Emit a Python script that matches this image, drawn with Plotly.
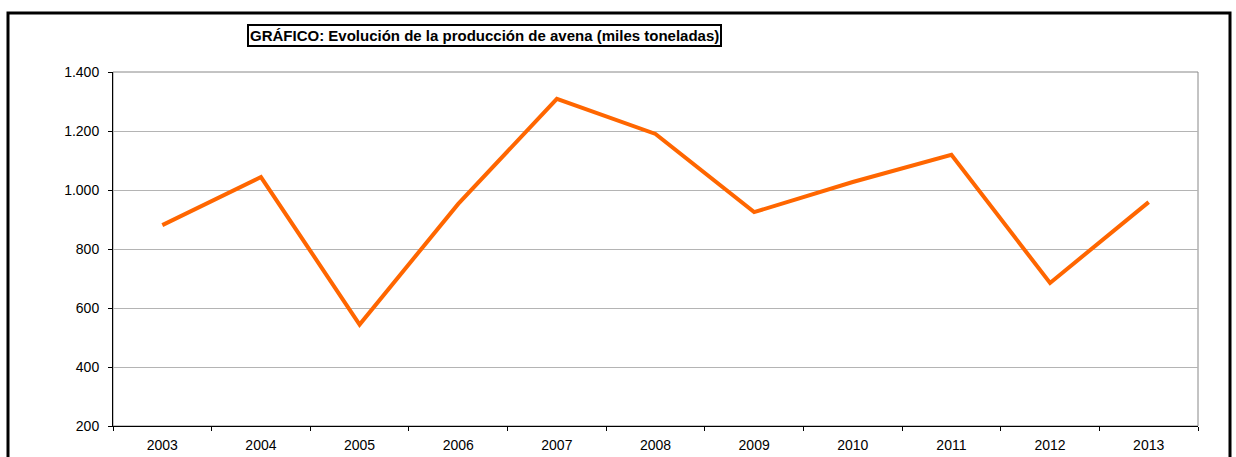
import plotly.graph_objects as go

years = ["2003", "2004", "2005", "2006", "2007", "2008", "2009", "2010", "2011", "2012", "2013"]
produccion = [881, 1044, 544, 953, 1309, 1190, 925, 1027, 1119, 685, 959]
y_tick_vals = [200, 400, 600, 800, 1000, 1200, 1400]
y_tick_text = ["200", "400", "600", "800", "1.000", "1.200", "1.400"]
title_text = "GRÁFICO: Evolución de la producción de avena (miles toneladas)"

W, H = 1236, 457
L, R, T, B = 113, 1198, 72, 426
pw, ph = R - L, B - T

def px(x):
    return (x - L) / pw

def py(y):
    return (B - y) / ph

fig = go.Figure()
fig.add_trace(go.Scatter(
    x=years, y=produccion, mode="lines",
    line=dict(color="#FF6600", width=4),
    hoverinfo="x+y", showlegend=False,
))

fig.update_layout(
    width=W, height=H,
    margin=dict(l=L, r=W - R, t=T, b=H - B, autoexpand=False),
    paper_bgcolor="white", plot_bgcolor="white",
    font=dict(family="Liberation Sans, Arial, sans-serif", size=14, color="black"),
    xaxis=dict(
        type="category", range=[-0.5, 10.5], automargin=False,
        showline=True, linecolor="black", linewidth=1,
        ticks="outside", tickson="boundaries", ticklen=4, tickcolor="black",
        ticklabelstandoff=6,
        showgrid=False, zeroline=False,
    ),
    yaxis=dict(
        range=[200, 1400], tickvals=y_tick_vals, ticktext=y_tick_text,
        automargin=False,
        showline=True, linecolor="black", linewidth=1,
        ticks="outside", ticklen=4, tickcolor="black",
        ticklabelstandoff=6,
        showgrid=True, gridcolor="#b4b4b4", gridwidth=1, zeroline=False,
    ),
    shapes=[
        dict(type="rect", xref="paper", yref="paper", x0=0, x1=1, y0=0, y1=1,
             line=dict(color="#888888", width=1), layer="below"),
        dict(type="rect", xref="paper", yref="paper",
             x0=px(8), x1=px(1230), y0=py(13), y1=py(480),
             line=dict(color="black", width=3)),
    ],
    annotations=[dict(
        text="<b>" + title_text + "</b>", xref="paper", yref="paper",
        x=px(484.5), y=py(35.5), xanchor="center", yanchor="middle",
        showarrow=False, font=dict(size=15, color="black"),
        bordercolor="black", borderwidth=2, borderpad=1, bgcolor="white",
    )],
)

fig.write_html("out.html", config={"displayModeBar": False},
               post_script="document.body.style.margin='0px';document.body.style.overflow='hidden';")
